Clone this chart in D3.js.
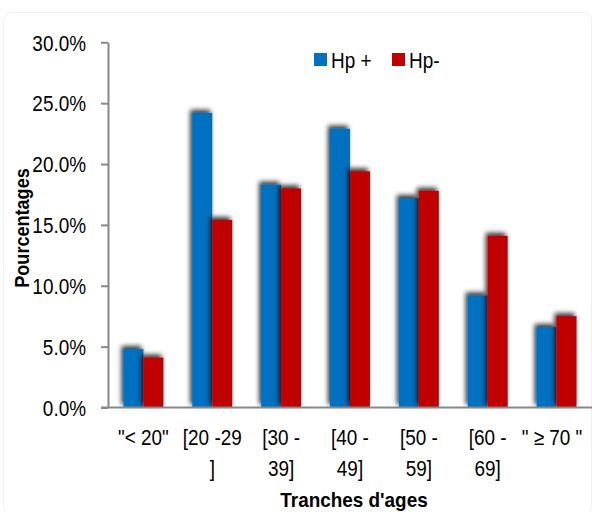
<!DOCTYPE html>
<html><head><meta charset="utf-8">
<script src="https://cdn.jsdelivr.net/npm/d3@7"></script>
<style>body{margin:0;background:#fff}svg{display:block}text{font-family:"Liberation Sans",Arial,sans-serif}</style>
</head><body>
<script>
const categories = ['"< 20"', '[20 -29 ]', '[30 - 39]', '[40 - 49]', '[50 - 59]', '[60 - 69]', '" ≥ 70 "'];
const categoryLines = [['"< 20"'], ['[20 -29', ']'], ['[30 -', '39]'], ['[40 -', '49]'], ['[50 -', '59]'], ['[60 -', '69]'], ['" ≥ 70 "']];
const seriesNames = ['Hp +', 'Hp-'];
const hpPlus = [4.8, 24.2, 18.3, 22.9, 17.2, 9.2, 6.6];
const hpMinus = [4.1, 15.4, 18.0, 19.4, 17.8, 14.1, 7.5];
const yTicks = [0, 5, 10, 15, 20, 25, 30];
const colors = ['#0070C0', '#C00000'];

const W = 592, H = 512;
const margin = {left: 108, right: 2, top: 42, bottom: 105};
const svg = d3.select('body').append('svg').attr('width', W).attr('height', H);

// condense text horizontally (reference uses a narrow face)
function narrow(sel, k) {
  sel.each(function() {
    const len = this.getComputedTextLength();
    d3.select(this).attr('textLength', len * k).attr('lengthAdjust', 'spacingAndGlyphs');
  });
}

const defs = svg.append('defs');
const f = defs.append('filter').attr('id', 'sh').attr('x', '-50%').attr('y', '-50%').attr('width', '200%').attr('height', '200%');
f.append('feGaussianBlur').attr('in', 'SourceAlpha').attr('stdDeviation', 2.6).attr('result', 'b');
f.append('feOffset').attr('in', 'b').attr('dx', -2).attr('dy', -3).attr('result', 'o');
f.append('feComponentTransfer').attr('in', 'o').attr('result', 'c').append('feFuncA').attr('type', 'linear').attr('slope', 0.8);
const m = f.append('feMerge');
m.append('feMergeNode').attr('in', 'c');
m.append('feMergeNode').attr('in', 'SourceGraphic');

svg.append('rect').attr('x', 3.5).attr('y', 12.5).attr('width', W - 4).attr('height', H - 10).attr('rx', 8)
  .attr('fill', 'none').attr('stroke', '#f0f0f0');

const x = d3.scaleBand().domain(categories).range([margin.left + 1, W - margin.right + 1]).paddingInner(0.42).paddingOuter(0.21);
const x1 = d3.scaleBand().domain(seriesNames).range([0, x.bandwidth()]);
const y = d3.scaleLinear().domain([0, 30]).range([H - margin.bottom + 0.5, margin.top + 0.3]);

const data = categories.map((c, i) => ({c, vals: [hpPlus[i], hpMinus[i]]}));
const g = svg.append('g');
data.forEach(d => {
  d.vals.forEach((v, j) => {
    g.append('rect')
      .attr('x', x(d.c) + x1(seriesNames[j]))
      .attr('y', y(v))
      .attr('width', x1.bandwidth())
      .attr('height', y(0) - y(v))
      .attr('fill', colors[j])
      .attr('filter', 'url(#sh)');
  });
});

// y axis
const yAxis = d3.axisLeft(y).tickValues(yTicks).tickFormat(d => d.toFixed(1) + '%').tickSize(7).tickSizeOuter(0);
const ya = svg.append('g').attr('transform', `translate(${margin.left},0)`).call(yAxis);
ya.select('.domain').attr('stroke', '#888').attr('stroke-width', 2);
ya.selectAll('.tick line').attr('stroke', '#888').attr('stroke-width', 2);
ya.selectAll('.tick text').attr('font-size', 22).attr('fill', '#000').attr('x', -22).attr('dy', '0.35em')
  .style('font-family', '"Liberation Sans",Arial,sans-serif');
narrow(ya.selectAll('.tick text'), 0.86);

// x axis baseline
const xAxis = d3.axisBottom(x).tickSize(0).tickFormat('');
const xa = svg.append('g').attr('transform', `translate(0,${y(0)})`).call(xAxis);
xa.select('.domain').attr('stroke', '#888').attr('stroke-width', 2).attr('d', `M${margin.left - 7},0H${W}`);

// category labels
categories.forEach((c, i) => {
  const cx = Math.min(x(c) + x.bandwidth() / 2, W - 40);
  categoryLines[i].forEach((ln, k) => {
    const t = svg.append('text').attr('text-anchor', 'middle').attr('font-size', 22).attr('fill', '#000')
      .attr('x', cx).attr('y', 445 + k * 31).text(ln);
    narrow(t, 0.86);
  });
});

// axis titles
const yt = svg.append('text').attr('text-anchor', 'middle').attr('font-size', 21).attr('font-weight', 'bold')
  .attr('transform', `translate(29,228) rotate(-90)`).text('Pourcentages');
narrow(yt, 0.86);
const xt = svg.append('text').attr('text-anchor', 'middle').attr('font-size', 21).attr('font-weight', 'bold')
  .attr('x', 354).attr('y', 507).text("Tranches d'ages");
narrow(xt, 0.9);

// legend
const leg = [{x: 314, tx: 331}, {x: 392, tx: 409}];
seriesNames.forEach((s, j) => {
  svg.append('rect').attr('x', leg[j].x).attr('y', 53).attr('width', 13).attr('height', 13).attr('fill', colors[j]);
  const t = svg.append('text').attr('x', leg[j].tx).attr('y', 68).attr('font-size', 22).attr('fill', '#000').text(s);
  narrow(t, 0.86);
});
</script>
</body></html>
